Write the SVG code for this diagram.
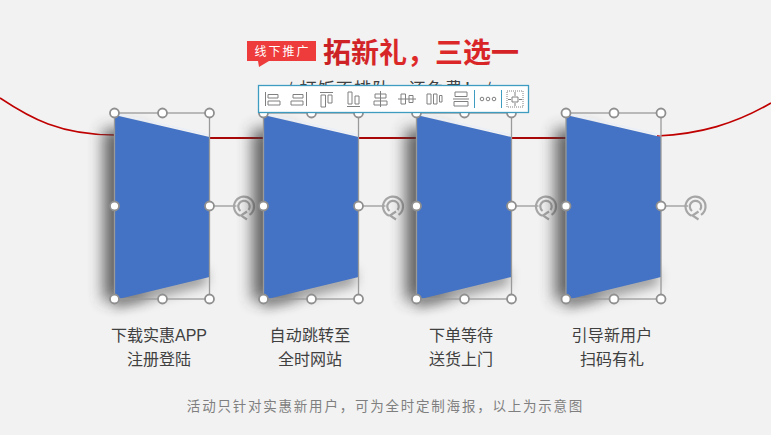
<svg xmlns="http://www.w3.org/2000/svg" width="771" height="435" viewBox="0 0 771 435">
<defs>
<linearGradient id="tg" x1="0" y1="0" x2="1" y2="0"><stop offset="0" stop-color="#c92025"/><stop offset=".5" stop-color="#e02a2a"/><stop offset="1" stop-color="#d32126"/></linearGradient>
<filter id="sh" x="-100%" y="-30%" width="300%" height="160%"><feGaussianBlur stdDeviation="7.500"/></filter>
<filter id="sh2" x="-30%" y="-100%" width="160%" height="300%"><feGaussianBlur stdDeviation="6"/></filter>
<g id="card">
<path d="M-11 16L30 16L30 184L-11 188Z" fill="#3c3c3c" opacity=".8" filter="url(#sh)"/>
<path d="M0 182L92 156V172L0 196Z" fill="#777" opacity=".7" filter="url(#sh2)"/>
<path d="M0 2L95 24V164L0 187Z" fill="#4472c4"/>
<path d="M2 1L95 22" stroke="#e9eef7" stroke-width="1.500" fill="none"/>
<rect x="0" y="0" width="95" height="186" fill="none" stroke="#9a9a9a" stroke-width="1.300"/>
<path d="M95 93H122" stroke="#9a9a9a" stroke-width="1.300"/>
<g transform="translate(129.500 93.500)" fill="none" stroke="#a6a6a6" stroke-width="2.200">
<path d="M-4 9.200A10 10 0 1 1 5.500 8.400"/>
<path d="M-3.500 4.500A5.700 5.700 0 1 1 4.500 3.500"/>
<path d="M3 5L-3 9L3 13"/>
</g>
<circle cx="0" cy="0" r="4.500" class="hd"/><circle cx="48" cy="0" r="4.500" class="hd"/><circle cx="95" cy="0" r="4.500" class="hd"/>
<circle cx="0" cy="93" r="4.500" class="hd"/><circle cx="95" cy="93" r="4.500" class="hd"/>
<circle cx="0" cy="186" r="4.500" class="hd"/><circle cx="48" cy="186" r="4.500" class="hd"/><circle cx="95" cy="186" r="4.500" class="hd"/>
</g>
</defs>
<style>
.hd{fill:#fff;stroke:#8f8f8f;stroke-width:1.800}
.t{font-family:"Liberation Sans","Noto Sans CJK SC",sans-serif;text-anchor:middle}
.cap{font-size:16px;fill:#404040}
.ic{fill:none;stroke:#808080;stroke-width:1}
</style>
<rect width="771" height="435" fill="#f2f2f2"/>
<g id="connectors">
<path d="M0 98C30 118 60 135 115 135" fill="none" stroke="#c00000" stroke-width="1.600"/>
<path d="M210 138H264M359 138H417M511 138H566" stroke="#a80808" stroke-width="2"/>
<path d="M657 136C700 134 735 124 771 103" fill="none" stroke="#c00000" stroke-width="1.600"/>
</g>
<g id="title">
<path d="M247 41H316V61H269L259 67L258 61H247Z" fill="#ee3b3b"/>
<text class="t" x="282.500" y="56" font-size="12" fill="#fff" letter-spacing="2">线下推广</text>
<text class="t" x="421" y="63" font-size="28" font-weight="700" fill="url(#tg)">拓新礼，三选一</text>
<text class="t" x="387.500" y="95" font-size="17" fill="#404040" letter-spacing="1.200">√ 打饭不排队，还免费！√</text>
</g>
<g id="node1"><use href="#card" x="114.500" y="113"/><text class="t cap" x="159" y="341">下载实惠APP</text><text class="t cap" x="159" y="365">注册登陆</text></g>
<g id="node2"><use href="#card" x="263.500" y="113"/><text class="t cap" x="310" y="341" letter-spacing=".2">自动跳转至</text><text class="t cap" x="310" y="365">全时网站</text></g>
<g id="node3"><use href="#card" x="416.500" y="113"/><text class="t cap" x="461" y="341">下单等待</text><text class="t cap" x="461" y="365">送货上门</text></g>
<g id="node4"><use href="#card" x="566" y="113"/><text class="t cap" x="612" y="341" letter-spacing=".2">引导新用户</text><text class="t cap" x="612" y="365">扫码有礼</text></g>
<text id="note" class="t" x="385.500" y="411" font-size="13.500" fill="#7f7f7f" letter-spacing="1.780">活动只针对实惠新用户，可为全时定制海报，以上为示意图</text>
<g id="toolbar">
<rect x="258.500" y="85.500" width="270" height="27" fill="#fff" stroke="#3d9cc0" stroke-width="1.300"/>
<g class="ic">
<path d="M265.500 92V106M268 94.500H278V98H268ZM268 101H280V105H268Z"/>
<path d="M306.500 92V106M293 94.500H303V98H293ZM291 101H303V105H291Z"/>
<path d="M320 92.500H333M321 95V107H325.500V95ZM328 95V103H332V95Z"/>
<path d="M347 106.500H360M348 92V104H352V92ZM355 96V104H359V96Z"/>
<path d="M380.500 91V107M375 94H386V98H375ZM374 101H387V105H374Z"/>
<path d="M398 99H416M401 94V104H405.500V94ZM409 95.500V102.500H413V95.500Z"/>
<path d="M427 94H431V104H427ZM433.500 94H437V104H433.500ZM439.500 95.500H442V102H439.500Z"/>
<path d="M455 92H467V96.500H455ZM453 99H469M454 101.500H468V106H454Z"/>
</g>
<path d="M474.500 90V108M501.500 90V108" stroke="#3d9cc0" stroke-width="1"/>
<circle cx="482" cy="99" r="1.800" class="ic"/><circle cx="488" cy="99" r="1.800" class="ic"/><circle cx="494" cy="99" r="1.800" class="ic"/>
<rect x="507" y="91" width="16" height="16" fill="none" stroke="#808080" stroke-dasharray="1 1"/>
<path d="M512 97H518V102H512ZM515 92V96M515 103V106M508 99.500H511M519 99.500H522" class="ic"/>
</g>
</svg>
